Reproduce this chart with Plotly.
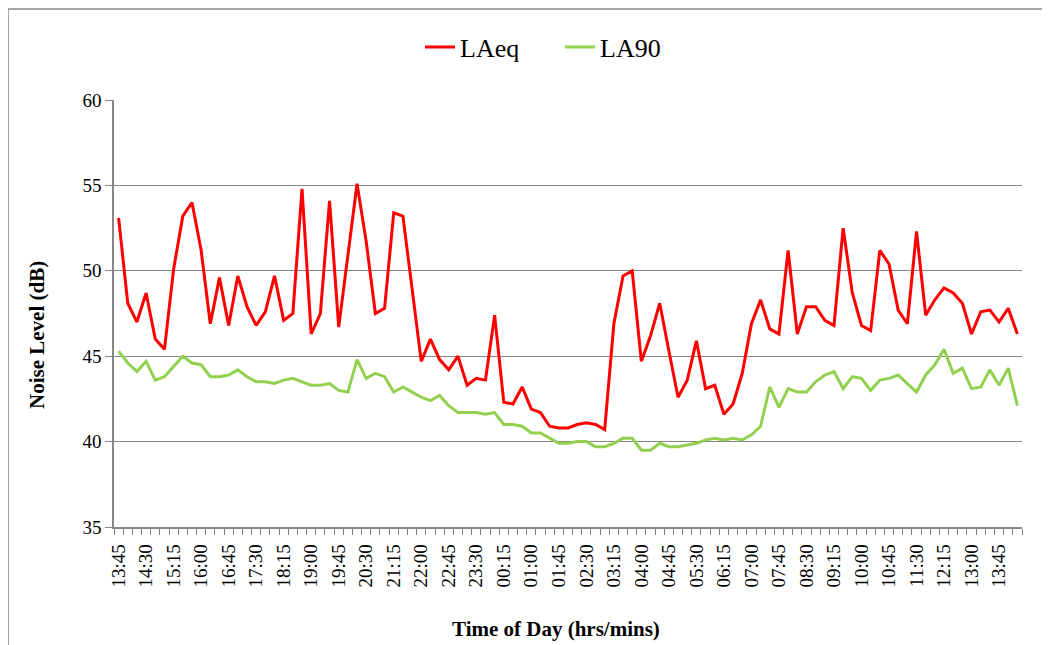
import plotly.graph_objects as go

times = [
    "13:45", "14:00", "14:15", "14:30", "14:45", "15:00", "15:15", "15:30", "15:45",
    "16:00", "16:15", "16:30", "16:45", "17:00", "17:15", "17:30", "17:45", "18:00",
    "18:15", "18:30", "18:45", "19:00", "19:15", "19:30", "19:45", "20:00", "20:15",
    "20:30", "20:45", "21:00", "21:15", "21:30", "21:45", "22:00", "22:15", "22:30",
    "22:45", "23:00", "23:15", "23:30", "23:45", "00:00", "00:15", "00:30", "00:45",
    "01:00", "01:15", "01:30", "01:45", "02:00", "02:15", "02:30", "02:45", "03:00",
    "03:15", "03:30", "03:45", "04:00", "04:15", "04:30", "04:45", "05:00", "05:15",
    "05:30", "05:45", "06:00", "06:15", "06:30", "06:45", "07:00", "07:15", "07:30",
    "07:45", "08:00", "08:15", "08:30", "08:45", "09:00", "09:15", "09:30", "09:45",
    "10:00", "10:15", "10:30", "10:45", "11:00", "11:15", "11:30", "11:45", "12:00",
    "12:15", "12:30", "12:45", "13:00", "13:15", "13:30", "13:45", "14:00", "14:15",
]

laeq = [
    53.1, 48.1, 47.0, 48.7, 46.0, 45.4, 50.1, 53.2, 54.0, 51.2,
    46.9, 49.6, 46.8, 49.7, 47.9, 46.8, 47.6, 49.7, 47.1, 47.5,
    54.8, 46.3, 47.5, 54.1, 46.7, 50.8, 55.1, 51.7, 47.5, 47.8,
    53.4, 53.2, 49.0, 44.7, 46.0, 44.8, 44.2, 45.0, 43.3, 43.7,
    43.6, 47.4, 42.3, 42.2, 43.2, 41.9, 41.7, 40.9, 40.8, 40.8,
    41.0, 41.1, 41.0, 40.7, 46.9, 49.7, 50.0, 44.7, 46.2, 48.1,
    45.3, 42.6, 43.6, 45.9, 43.1, 43.3, 41.6, 42.2, 44.0, 46.9,
    48.3, 46.6, 46.3, 51.2, 46.3, 47.9, 47.9, 47.1, 46.8, 52.5,
    48.7, 46.8, 46.5, 51.2, 50.4, 47.7, 46.9, 52.3, 47.4, 48.3,
    49.0, 48.7, 48.1, 46.3, 47.6, 47.7, 47.0, 47.8, 46.3,
]

la90 = [
    45.3, 44.6, 44.1, 44.7, 43.6, 43.8, 44.4, 45.0, 44.6, 44.5,
    43.8, 43.8, 43.9, 44.2, 43.8, 43.5, 43.5, 43.4, 43.6, 43.7,
    43.5, 43.3, 43.3, 43.4, 43.0, 42.9, 44.8, 43.7, 44.0, 43.8,
    42.9, 43.2, 42.9, 42.6, 42.4, 42.7, 42.1, 41.7, 41.7, 41.7,
    41.6, 41.7, 41.0, 41.0, 40.9, 40.5, 40.5, 40.2, 39.9, 39.9,
    40.0, 40.0, 39.7, 39.7, 39.9, 40.2, 40.2, 39.5, 39.5, 39.9,
    39.7, 39.7, 39.8, 39.9, 40.1, 40.2, 40.1, 40.2, 40.1, 40.4,
    40.9, 43.2, 42.0, 43.1, 42.9, 42.9, 43.5, 43.9, 44.1, 43.1,
    43.8, 43.7, 43.0, 43.6, 43.7, 43.9, 43.4, 42.9, 43.9, 44.5,
    45.4, 44.0, 44.3, 43.1, 43.2, 44.2, 43.3, 44.3, 42.1,
]

FONT = "Liberation Serif"
GRID = "#868686"

idx = list(range(len(times)))

fig = go.Figure()
fig.add_trace(go.Scatter(x=idx, y=laeq, mode="lines", name="LAeq",
                         line=dict(color="#FF0000", width=3),
                         text=times, hovertemplate="%{text}: %{y}<extra>LAeq</extra>"))
fig.add_trace(go.Scatter(x=idx, y=la90, mode="lines", name="LA90",
                         line=dict(color="#92D050", width=3),
                         text=times, hovertemplate="%{text}: %{y}<extra>LA90</extra>"))

# page offset of the figure div (browser body margin)
OFF = 8
# plot area in page pixels: x 114..1022, y 100..527
L, R, T, B = 114, 1022, 100, 527
PW, PH = 1050, 645
W, H = PW - OFF, PH - OFF


def px(xp):
    return (xp - L) / (R - L)


def py(yp):
    return (B - yp) / (B - T)


border = dict(color="#888888", width=1.5)
shapes = [
    dict(type="line", xref="paper", yref="paper", x0=px(8), x1=px(8), y0=py(9), y1=py(680), line=border),
    dict(type="line", xref="paper", yref="paper", x0=px(8), x1=px(1048), y0=py(9), y1=py(9), line=border),
    dict(type="line", xref="paper", yref="paper", x0=px(1048), x1=px(1048), y0=py(9), y1=py(680), line=border),
]

fig.update_layout(
    width=W, height=H,
    margin=dict(l=L - OFF, r=PW - R, t=T - OFF, b=PH - B, pad=0),
    paper_bgcolor="white", plot_bgcolor="white",
    font=dict(family=FONT, color="black", size=19),
    shapes=shapes,
    showlegend=True,
    legend=dict(orientation="h", x=px(420), xanchor="left", y=py(47), yanchor="middle",
                font=dict(family=FONT, size=26, color="black"),
                itemwidth=30, entrywidth=95, entrywidthmode="pixels",
                bgcolor="rgba(0,0,0,0)"),
    annotations=[
        dict(text="<b>Time of Day (hrs/mins)</b>", xref="paper", yref="paper",
             x=px(556), y=py(629), xanchor="center", yanchor="middle", showarrow=False,
             font=dict(family=FONT, size=21, color="black")),
        dict(text="<b>Noise Level (dB)</b>", xref="paper", yref="paper",
             x=px(37), y=py(335), xanchor="center", yanchor="middle", showarrow=False,
             textangle=-90, font=dict(family=FONT, size=21, color="black")),
    ],
)

fig.update_xaxes(
    range=[-0.5, len(times) - 0.5],
    tickmode="array", tickvals=idx[::3], ticktext=times[::3],
    tickangle=-90, ticks="outside", ticklen=8, tickcolor="rgba(0,0,0,0)",
    tickfont=dict(family=FONT, size=19, color="black"),
    showgrid=False, zeroline=False,
    showline=True, linecolor=GRID, linewidth=1.5,
    minor=dict(tickmode="linear", tick0=-0.5, dtick=1, ticks="outside", ticklen=6,
               tickcolor=GRID, tickwidth=1.3, showgrid=False),
)

fig.update_yaxes(
    range=[35, 60], tickmode="linear", tick0=35, dtick=5,
    ticks="outside", ticklen=7, tickcolor=GRID, tickwidth=1.3,
    tickfont=dict(family=FONT, size=19, color="black"),
    showgrid=True, gridcolor=GRID, gridwidth=1.3, zeroline=False,
    showline=True, linecolor=GRID, linewidth=1.5,
)

fig.write_html("out.html")
